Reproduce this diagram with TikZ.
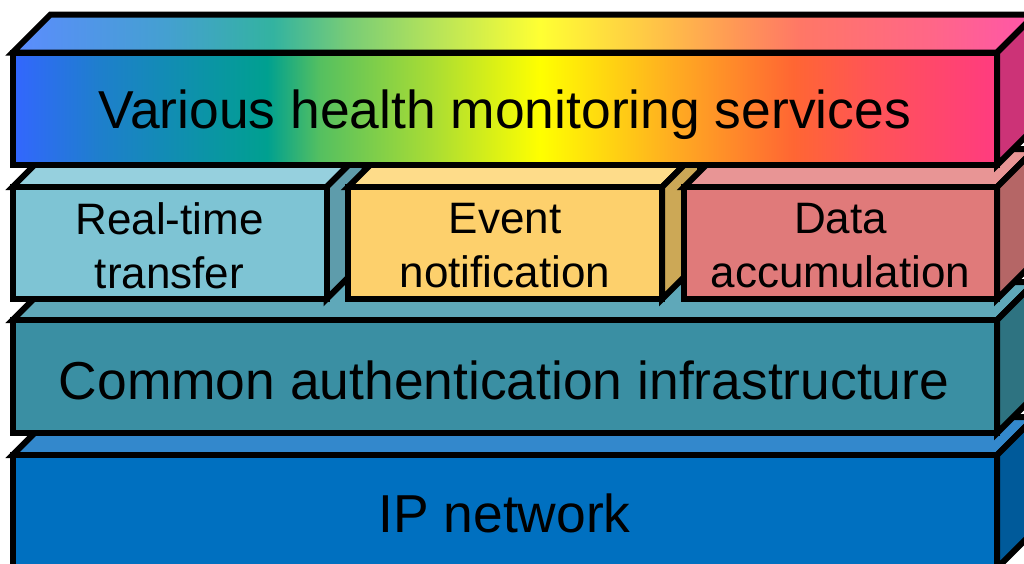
\documentclass[tikz,border=0pt]{standalone}
\usepackage{fontspec}
\setmainfont{Liberation Sans}

% face colours
\definecolor{rtFront}{HTML}{7EC4D4}
\definecolor{rtTop}{HTML}{96D0DE}
\definecolor{rtSide}{HTML}{5E9CAB}
\definecolor{evFront}{HTML}{FDD06C}
\definecolor{evTop}{HTML}{FEDC8A}
\definecolor{evSide}{HTML}{CCA856}
\definecolor{daFront}{HTML}{E07A7A}
\definecolor{daTop}{HTML}{E89595}
\definecolor{daSide}{HTML}{B56666}
\definecolor{caFront}{HTML}{3A8FA3}
\definecolor{caTop}{HTML}{5FA8B9}
\definecolor{caSide}{HTML}{2E7381}
\definecolor{ipFront}{HTML}{0070C0}
\definecolor{ipTop}{HTML}{3388CC}
\definecolor{ipSide}{HTML}{005A9A}
\definecolor{svSide}{HTML}{CC3377}

% rainbow stops for the services slab
\definecolor{fA}{HTML}{3366FF}\definecolor{fB}{HTML}{1E7FCC}
\definecolor{fC}{HTML}{00A090}\definecolor{fD}{HTML}{55C060}
\definecolor{fE}{HTML}{AADD33}\definecolor{fF}{HTML}{FFFF00}
\definecolor{fG}{HTML}{FFB020}\definecolor{fH}{HTML}{FF6633}
\definecolor{fI}{HTML}{FF5555}\definecolor{fJ}{HTML}{FF3B80}
\definecolor{tA}{HTML}{5C8CFF}\definecolor{tB}{HTML}{44A0D0}
\definecolor{tC}{HTML}{33B3A0}\definecolor{tD}{HTML}{77CC77}
\definecolor{tE}{HTML}{B5E35A}\definecolor{tF}{HTML}{FFFF33}
\definecolor{tG}{HTML}{FFCC44}\definecolor{tH}{HTML}{FF9955}
\definecolor{tI}{HTML}{FF7766}\definecolor{tJ}{HTML}{FF6688}
\definecolor{tK}{HTML}{FF55AA}

\pgfdeclarehorizontalshading{rainbowFront}{100bp}{%
  color(0bp)=(fA); color(25bp)=(fA); color(29.44bp)=(fB);
  color(37.93bp)=(fC); color(40.62bp)=(fD); color(46.36bp)=(fE);
  color(51.79bp)=(fF); color(58.24bp)=(fG); color(64.64bp)=(fH);
  color(68.40bp)=(fI); color(75bp)=(fJ); color(100bp)=(fJ)}
\pgfdeclarehorizontalshading{rainbowTop}{100bp}{%
  color(0bp)=(tA); color(25bp)=(tA); color(32.56bp)=(tB);
  color(37.74bp)=(tC); color(41.36bp)=(tD); color(45.56bp)=(tE);
  color(50.80bp)=(tF); color(55.69bp)=(tG); color(60.23bp)=(tH);
  color(63.51bp)=(tI); color(70.01bp)=(tJ); color(75bp)=(tK); color(100bp)=(tK)}

\tikzset{
  slab/.style={draw=black, line width=6pt, line join=miter},
  bigtext/.style={font=\fontsize{53.4}{64}\selectfont, inner sep=0pt, anchor=base},
  midtext/.style={font=\fontsize{44}{54}\selectfont, align=center, inner sep=0pt},
}

% \cuboid{x1}{y1}{x2}{y2}{front}{top}{side}: a slab with depth 38
\newcommand{\cuboid}[7]{%
  \filldraw[slab, fill=#6] (#1,#2) -- (#1+38,#2-38) -- (#3+38,#2-38) -- (#3,#2) -- cycle;
  \filldraw[slab, fill=#7] (#3,#2) -- (#3+38,#2-38) -- (#3+38,#4-38) -- (#3,#4) -- cycle;
  \filldraw[slab, fill=#5] (#1,#2) rectangle (#3,#4);
}

\begin{document}
\begin{tikzpicture}[x=1pt, y=-1pt]
  \useasboundingbox (0,0) rectangle (1024,563);
  \clip (0,0) rectangle (1024,563);
  \fill[white] (0,0) rectangle (1024,563);

  % lowest layer first, so each upper layer hides the one below
  \cuboid{12.5}{455}{997}{568}{ipFront}{ipTop}{ipSide}
  \node[bigtext] (ip) at (504.5,532) {IP network};

  \cuboid{12.5}{320}{997}{433}{caFront}{caTop}{caSide}
  \node[bigtext] (auth) at (504,399) {Common authentication infrastructure};

  \cuboid{12.5}{187}{326.5}{299}{rtFront}{rtTop}{rtSide}
  \node[midtext] (rt) at (169.5,246) {Real-time\\transfer};

  \cuboid{348}{187}{662}{299}{evFront}{evTop}{evSide}
  \node[midtext] (ev) at (505,246) {Event\\notification};

  \cuboid{684}{187}{997}{299}{daFront}{daTop}{daSide}
  \node[midtext] (da) at (840.5,246) {Data\\accumulation};

  % services slab with its rainbow faces
  \begin{scope}
    \clip (12.5,52.5) -- (50.5,14.5) -- (1035,14.5) -- (997,52.5) -- cycle;
    \shade[shading=rainbowTop] (12.5,14.5) rectangle (1035,52.5);
  \end{scope}
  \draw[slab] (12.5,52.5) -- (50.5,14.5) -- (1035,14.5) -- (997,52.5) -- cycle;
  \filldraw[slab, fill=svSide] (997,52.5) -- (1035,14.5) -- (1035,127) -- (997,165) -- cycle;
  \shade[shading=rainbowFront] (12.5,52.5) rectangle (997,165);
  \draw[slab] (12.5,52.5) rectangle (997,165);
  \node[bigtext] (sv) at (504.75,128) {Various health monitoring services};
\end{tikzpicture}
\end{document}
